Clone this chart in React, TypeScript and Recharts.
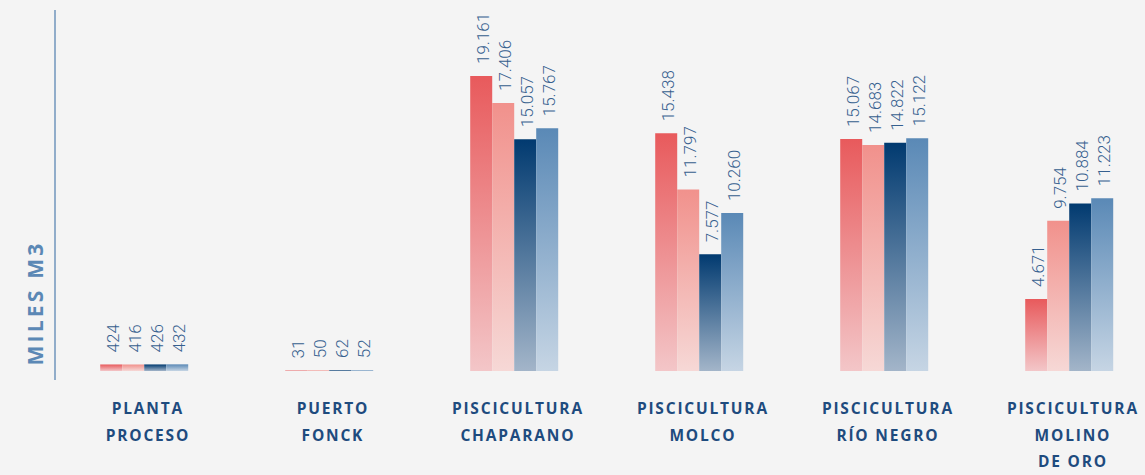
import React from "react";
import { BarChart, Bar, XAxis, YAxis, LabelList } from "recharts";

// categorías (salto de línea = nueva línea en el eje)
const categories = [
  "PLANTA\nPROCESO",
  "PUERTO\nFONCK",
  "PISCICULTURA\nCHAPARANO",
  "PISCICULTURA\nMOLCO",
  "PISCICULTURA\nRÍO NEGRO",
  "PISCICULTURA\nMOLINO\nDE ORO",
];

// miles de m3 por serie
const serie1 = [424, 31, 19161, 15438, 15067, 4671];
const serie2 = [416, 50, 17406, 11797, 14683, 9754];
const serie3 = [426, 62, 15057, 7577, 14822, 10884];
const serie4 = [432, 52, 15767, 10260, 15122, 11223];

const seriesKeys = ["s1", "s2", "s3", "s4"];

const gradients = [
  { id: "grad1", top: "#e85a5c", bottom: "#f3c6c8" },
  { id: "grad2", top: "#f1918c", bottom: "#f6d8d6" },
  { id: "grad3", top: "#013a70", bottom: "#a3b5c9" },
  { id: "grad4", top: "#5a89b6", bottom: "#c6d5e4" },
];

const data = categories.map((name, i) => ({
  name,
  s1: serie1[i],
  s2: serie2[i],
  s3: serie3[i],
  s4: serie4[i],
}));

const formatNumber = (v: number) =>
  String(v).replace(/\B(?=(\d{3})+(?!\d))/g, ".");

const ValueLabel = (props: any) => {
  const { x, y, width, value } = props;
  const cx = Number(x) + Number(width) / 2 + 2;
  const ty = Number(y) - 12;
  return (
    <text
      x={cx}
      y={ty}
      transform={`rotate(-90 ${cx} ${ty})`}
      textAnchor="start"
      dominantBaseline="central"
      fill="#36608f"
      fontSize={17}
      fontWeight={300}
      fontFamily="Roboto, 'Liberation Sans', sans-serif"
    >
      {formatNumber(Number(value))}
    </text>
  );
};

const CategoryTick = (props: any) => {
  const { x, y, payload } = props;
  const lines = String(payload.value).split("\n");
  const tx = x + 4.4;
  return (
    <text
      x={tx}
      y={y}
      textAnchor="middle"
      fill="#1e4b7e"
      fontSize={15.5}
      fontWeight={700}
      letterSpacing={1.8}
      fontFamily="'Open Sans', sans-serif"
    >
      {lines.map((l, i) => (
        <tspan key={i} x={tx} y={y + 34 + i * 26.5}>
          {l}
        </tspan>
      ))}
    </text>
  );
};

const YTitle = (props: any) => {
  const vb = props.viewBox || { x: 0, y: 0, width: 55, height: 370 };
  const tx = vb.x + 35;
  const ty = 303;
  return (
    <text
      x={tx}
      y={ty}
      transform={`rotate(-90 ${tx} ${ty})`}
      textAnchor="middle"
      dominantBaseline="central"
      fill="#5b88b5"
      fontSize={21}
      fontWeight={700}
      letterSpacing={3.2}
      fontFamily="'Open Sans', sans-serif"
    >
      MILES M3
    </text>
  );
};

export default function App() {
  return (
    <div
      style={{
        width: 1145,
        height: 475,
        overflow: "hidden",
        background: "#f4f4f4",
      }}
    >
      <style>{`body{margin:0;background:#f4f4f4}`}</style>
      <BarChart
        width={1170}
        height={475}
        data={data}
        margin={{ top: 10, right: 5, bottom: 0, left: 0 }}
        barCategoryGap="26.6%"
        barGap={0}
      >
        <defs>
          {gradients.map((g) => (
            <linearGradient key={g.id} id={g.id} x1="0" y1="0" x2="0" y2="1">
              <stop offset="0%" stopColor={g.top} />
              <stop offset="100%" stopColor={g.bottom} />
            </linearGradient>
          ))}
        </defs>
        <XAxis
          dataKey="name"
          axisLine={false}
          tickLine={false}
          tickSize={0}
          tickMargin={0}
          height={95}
          interval={0}
          padding={{ left: -4, right: 4 }}
          tick={<CategoryTick />}
        />
        <YAxis
          type="number"
          domain={[-585, 23450]}
          allowDataOverflow
          width={55}
          tick={false}
          tickLine={false}
          axisLine={{ stroke: "#7196bd", strokeWidth: 1.5 }}
          label={<YTitle />}
        />
        {seriesKeys.map((k, i) => (
          <Bar
            key={k}
            dataKey={k}
            fill={`url(#${gradients[i].id})`}
            isAnimationActive={false}
          >
            <LabelList dataKey={k} content={<ValueLabel />} />
          </Bar>
        ))}
      </BarChart>
    </div>
  );
}
